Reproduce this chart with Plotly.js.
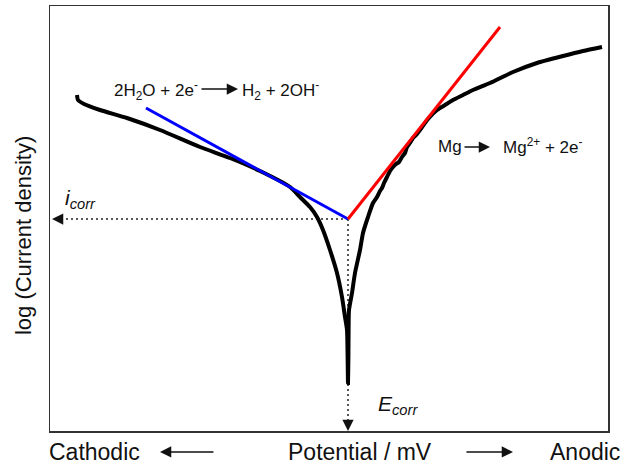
<!DOCTYPE html>
<html>
<head>
<meta charset="utf-8">
<script src="https://cdn.plot.ly/plotly-3.0.1.min.js"></script>
<style>html,body{margin:0;padding:0;background:#fff;}#chart{width:624px;height:466px;}</style>
</head>
<body>
<div id="chart"></div>
<script>
// Potential (arbitrary units, left = cathodic) and log(current density) (arbitrary units)
var curvePotential = [77, 78, 84, 100, 127, 160, 200, 230, 260, 290, 300, 310, 317, 323, 330, 337, 342, 345, 347, 347.6, 348, 348.4, 348.6, 349, 352, 355, 360, 363, 368, 373, 377, 380, 382, 384, 387, 390, 393, 396, 399, 402, 405, 407, 410, 413, 417, 420, 428, 437, 445, 453, 463, 473, 490, 513, 537, 563, 583, 602];
var curveLogI      = [336, 331, 327, 321, 313, 301, 284, 273, 260, 244, 234, 224, 214, 201, 181, 158, 134, 114, 101, 75, 48, 75, 101, 121, 138, 158, 181, 198, 214, 228, 234, 240, 243, 248, 254, 260, 264, 267, 269, 274, 278, 284, 288, 293, 297, 301, 312, 321, 326, 331, 336, 341, 348, 359, 368, 375, 380, 384];

var cathodicTafelPotential = [146, 348];
var cathodicTafelLogI      = [323, 212];
var anodicTafelPotential   = [348, 500];
var anodicTafelLogI        = [212, 404];

var Ecorr = 348;
var logIcorr = 212;
var potentialRange = [50, 608];
var logIRange = [0, 425];

// bottom-row labels and the y label (paper fractions)
var bottomLabels = ['Cathodic', 'Potential / mV', 'Anodic'];
var bottomLabelX = [0.0797, 0.5547, 0.9588];
var bottomRowY = -0.0494;
var yLabel = 'log (Current density)';

var txtFont = {family: 'Liberation Sans, Arial, sans-serif', size: 17, color: '#111'};
var bigFont = {family: 'Liberation Sans, Arial, sans-serif', size: 23, color: '#111'};
var yFont = {family: 'Liberation Sans, Arial, sans-serif', size: 22, color: '#111'};

var traces = [
  {x: [Ecorr, potentialRange[0] + 8], y: [logIcorr, logIcorr], mode: 'lines',
   line: {color: '#222', width: 1.5, dash: '2px,3px'}, hoverinfo: 'skip', showlegend: false},
  {x: [Ecorr, Ecorr], y: [logIcorr, logIRange[0] + 8], mode: 'lines',
   line: {color: '#222', width: 1.5, dash: '2px,3px'}, hoverinfo: 'skip', showlegend: false},
  {x: curvePotential, y: curveLogI, mode: 'lines',
   line: {color: '#000', width: 4, shape: 'spline', smoothing: 0.6}, showlegend: false},
  {x: cathodicTafelPotential, y: cathodicTafelLogI, mode: 'lines',
   line: {color: '#0000ff', width: 3}, showlegend: false},
  {x: anodicTafelPotential, y: anodicTafelLogI, mode: 'lines',
   line: {color: '#ff0000', width: 3}, showlegend: false}
];

function arrow(xHead, yHead, dxTail, dyTail, xr, yr) {
  return {x: xHead, y: yHead, xref: xr || 'x', yref: yr || 'y', text: '',
    showarrow: true, arrowhead: 2, arrowsize: 1.5, arrowwidth: 1.5, arrowcolor: '#111',
    ax: dxTail, ay: dyTail, axref: 'pixel', ayref: 'pixel', standoff: 0};
}

var annotations = [
  {x: 112, y: 341, xref: 'x', yref: 'y', xanchor: 'left', yanchor: 'middle', showarrow: false,
   text: '2H<sub>2</sub>O + 2e<sup>-</sup>', font: txtFont},
  arrow(238, 342, -38, 0),
  {x: 240, y: 341, xref: 'x', yref: 'y', xanchor: 'left', yanchor: 'middle', showarrow: false,
   text: 'H<sub>2</sub> + 2OH<sup>-</sup>', font: txtFont},
  {x: 436, y: 285, xref: 'x', yref: 'y', xanchor: 'left', yanchor: 'middle', showarrow: false,
   text: 'Mg', font: txtFont},
  arrow(490, 284, -27, 0),
  {x: 501, y: 285, xref: 'x', yref: 'y', xanchor: 'left', yanchor: 'middle', showarrow: false,
   text: 'Mg<sup>2+</sup> + 2e<sup>-</sup>', font: txtFont},
  {x: 63, y: 232, xref: 'x', yref: 'y', xanchor: 'left', yanchor: 'middle', showarrow: false,
   text: '<i>i</i><sub><i>corr</i></sub>', font: {family: 'Liberation Sans, Arial, sans-serif', size: 21, color: '#111'}},
  {x: 376, y: 26, xref: 'x', yref: 'y', xanchor: 'left', yanchor: 'middle', showarrow: false,
   text: '<i>E</i><sub><i>corr</i></sub>', font: {family: 'Liberation Sans, Arial, sans-serif', size: 21, color: '#111'}},
  arrow(potentialRange[0] + 2, logIcorr, 12, 0),
  arrow(Ecorr, logIRange[0], 0, -12),
  {x: bottomLabelX[0], y: bottomRowY, xref: 'paper', yref: 'paper', xanchor: 'center', yanchor: 'middle', showarrow: false,
   text: bottomLabels[0], font: bigFont},
  arrow(0.1971, bottomRowY, 55, 0, 'paper', 'paper'),
  {x: bottomLabelX[1], y: bottomRowY, xref: 'paper', yref: 'paper', xanchor: 'center', yanchor: 'middle', showarrow: false,
   text: bottomLabels[1], font: bigFont},
  arrow(0.8297, bottomRowY, -48, 0, 'paper', 'paper'),
  {x: bottomLabelX[2], y: bottomRowY, xref: 'paper', yref: 'paper', xanchor: 'center', yanchor: 'middle', showarrow: false,
   text: bottomLabels[2], font: bigFont},
  {x: -0.0484, y: 0.461, xref: 'paper', yref: 'paper', xanchor: 'center', yanchor: 'middle', showarrow: false,
   textangle: -90, text: yLabel, font: yFont}
];

var axisBase = {showgrid: false, zeroline: false, showticklabels: false, ticks: '',
  showline: true, mirror: true, linecolor: '#333', linewidth: 1.5, fixedrange: true};

var layout = {
  width: 624, height: 466,
  margin: {l: 50, r: 16, t: 6, b: 35, pad: 0},
  paper_bgcolor: '#fff', plot_bgcolor: '#fff',
  xaxis: Object.assign({range: potentialRange}, axisBase),
  yaxis: Object.assign({range: logIRange}, axisBase),
  annotations: annotations,
  showlegend: false
};

Plotly.newPlot('chart', traces, layout, {staticPlot: true, displayModeBar: false});
</script>
</body>
</html>
